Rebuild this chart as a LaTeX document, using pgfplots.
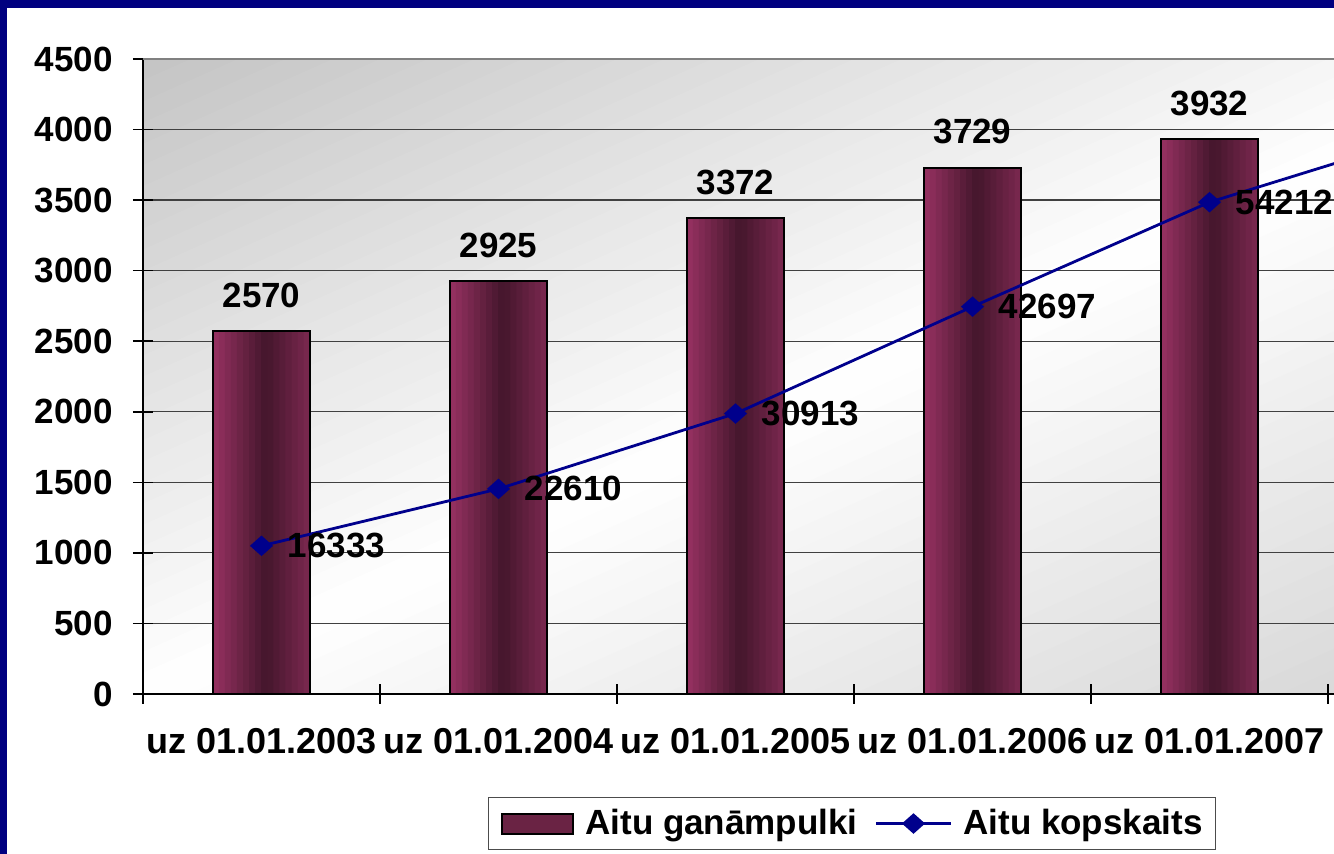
\documentclass[border=0pt]{standalone}
\usepackage{fontspec}
\setmainfont{Liberation Sans}
\usepackage{pgfplots}
\usepackage{pgfplotstable}
\pgfplotsset{compat=1.18}
\definecolor{navyb}{RGB}{0,0,128}
\definecolor{barlight}{RGB}{152,50,98}
\definecolor{bardark}{RGB}{68,22,44}
\definecolor{linec}{RGB}{0,0,140}
\newcommand{\lblfont}{\fontsize{17.5}{21}\selectfont\bfseries}
\pgfplotsset{my line legend/.style={legend image code/.code={\draw[mark repeat=2,mark phase=2,##1] plot coordinates {(0pt,0pt) (18.75pt,0pt) (37.5pt,0pt)};}}}
% colours of the vertical strips that give each bar its gradient
\foreach \i in {0,...,15}{%
  \pgfmathsetmacro{\u}{(\i+0.5)/16}%
  \pgfmathsetmacro{\p}{\u<0.55 ? \u/0.55*100 : 100-(\u-0.55)/0.45*65}%
  \xglobal\colorlet{barc\i}{bardark!\p!barlight}%
}
\pgfplotstableread{
x y
0 2570
1 2925
2 3372
3 3729
4 3932
}\bardata
\pgfplotstableread{
x y label
0 16333 16333
1 22610 22610
2 30913 30913
3 42697 42697
4 54212 54212
5 62300 {}
}\linedata
\begin{document}
\begin{tikzpicture}[x=1pt,y=1pt]
\useasboundingbox (0,0) rectangle (667,427);
\clip (0,0) rectangle (667,427);
\fill[navyb] (0,0) rectangle (667,427);
\fill[white] (3.5,0) rectangle (667,423);
% diagonal grey-white-grey gradient of the plot area
\begin{scope}
\clip (71.5,80) rectangle (782.5,397.5);
\foreach \i in {0,...,59}{
  \pgfmathsetmacro{\sa}{-1+\i/30}
  \pgfmathsetmacro{\sb}{\sa+1/30+0.004}
  \pgfmathsetmacro{\sm}{\sa+1/60}
  \pgfmathsetmacro{\p}{\sm<0 ? 100+46*\sm : 100-36*\sm}
  \fill[white!\p!gray] ({71.5+711*\sa},80) -- ({71.5+711*\sb},80) -- ({71.5+711*(\sb+1)},397.5) -- ({71.5+711*(\sa+1)},397.5) -- cycle;
}
\end{scope}
\begin{axis}[
  at={(71.5pt,80pt)}, anchor=south west,
  scale only axis, width=711pt, height=317.5pt,
  xmin=-0.5, xmax=5.5, ymin=0, ymax=4500,
  axis x line*=bottom, axis y line*=left,
  axis line style={black, line width=1pt},
  ytick={0,500,...,4500},
  ymajorgrids, major grid style={black!75, line width=0.6pt},
  xtick={0,...,5},
  xticklabels={uz 01.01.2003, uz 01.01.2004, uz 01.01.2005, uz 01.01.2006, uz 01.01.2007, {}},
  minor xtick={-0.5,0.5,...,5.5},
  major x tick style={draw=none},
  minor x tick style={black, line width=0.8pt},
  y tick style={black, line width=0.8pt},
  tick align=center,
  major tick length=10pt, minor tick length=10pt,
  ticklabel style={font=\lblfont, black},
  yticklabel style={anchor=east, inner sep=0pt, xshift=-10pt},
  xticklabel style={anchor=north, inner sep=0pt, yshift=-12pt, font=\fontsize{18}{21}\selectfont\bfseries},
  /pgf/number format/.cd, 1000 sep={}, assume math mode=true,
  /pgfplots/.cd,
  legend columns=2,
  legend style={at={(0.4986,-0.204)}, anchor=center, draw=black!70, line width=0.6pt,
    font=\lblfont, nodes={inner sep=0pt}, inner xsep=6.5pt, inner ysep=6pt,
    /tikz/every odd column/.append style={column sep=5.5pt},
    /tikz/every even column/.append style={column sep=8.5pt}},
  clip=false,
]
\draw[gray, line width=1pt] (rel axis cs:0,1) -- (rel axis cs:1,1);
\pgfplotsforeachungrouped \i in {0,...,15}{%
  \pgfmathsetmacro{\bs}{((\i+0.5)/16-0.5)*48.5}%
  \edef\doplot{\noexpand\addplot[ybar, forget plot, draw=none, fill=barc\i, bar width=3.3pt, bar shift=\bs pt] table[x=x,y=y] {\noexpand\bardata};}%
  \doplot
}
\addplot[ybar, bar width=48.5pt, draw=black, line width=1pt, fill=none,
  nodes near coords,
  every node near coord/.style={anchor=base, yshift=12pt, inner sep=0pt, font=\lblfont, black},
  area legend,
  legend image code/.code={\draw[black, line width=1pt, fill=bardark!55!barlight] (0pt,-5pt) rectangle (35.5pt,5pt);}]
  table[x=x,y=y] {\bardata};
\addlegendentry{Aitu ganāmpulki}
\addlegendimage{linec, line width=1.4pt, mark=diamond*, mark size=4.2pt, mark options={xscale=1.5, fill=linec}, my line legend}
\addlegendentry{Aitu kopskaits}
\end{axis}
\begin{axis}[
  at={(71.5pt,80pt)}, anchor=south west,
  scale only axis, width=711pt, height=317.5pt,
  xmin=-0.5, xmax=5.5, ymin=0, ymax=70000,
  hide axis, clip=false,
]
\addplot[linec, line width=1.4pt, mark=diamond*, mark size=4.2pt, mark options={xscale=1.5, fill=linec},
  nodes near coords, point meta=explicit symbolic,
  every node near coord/.style={anchor=west, inner sep=0pt, xshift=12.5pt, font=\lblfont, black}]
  table[x=x,y=y,meta=label] {\linedata};
\end{axis}
\end{tikzpicture}
\end{document}
